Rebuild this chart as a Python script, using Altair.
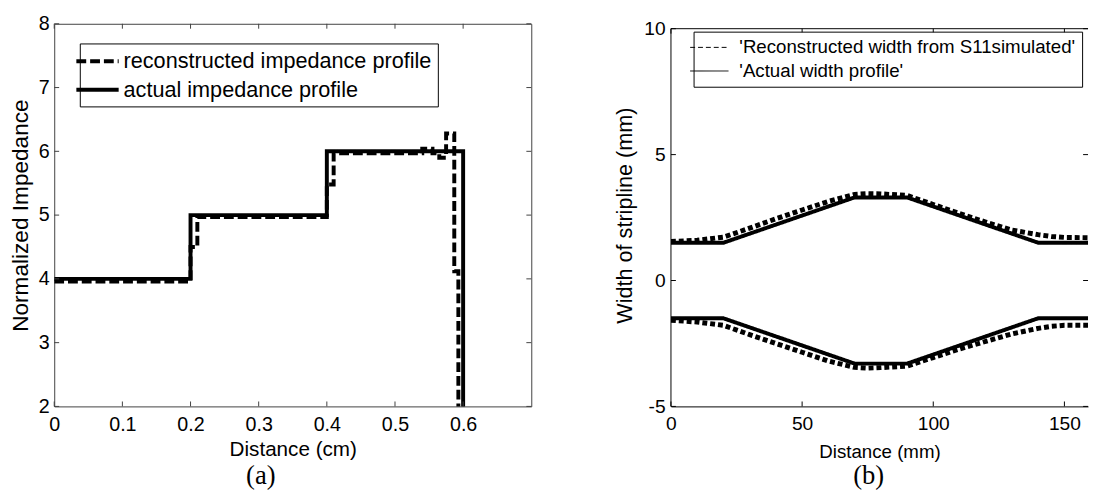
import altair as alt
import pandas as pd

# ---------------- panel (a) data ----------------
a_series = ["reconstructed impedance profile", "actual impedance profile"]
a_actual_x = [0.0, 0.2, 0.4, 0.6]
a_actual_y = [4.0, 5.0, 6.0, 1.0]
a_recon_x = [0.0, 0.2, 0.21, 0.4, 0.41, 0.54, 0.555, 0.565, 0.575, 0.587, 0.593]
a_recon_y = [3.96, 4.5, 4.97, 5.48, 5.97, 6.04, 5.97, 5.9, 6.28, 4.12, 1.0]
a_xticks = [0, 0.1, 0.2, 0.3, 0.4, 0.5, 0.6]
a_yticks = [2, 3, 4, 5, 6, 7, 8]
a_xdomain = [0, 0.7]
a_ydomain = [2, 8]
a_caption = ["(a)"]

# ---------------- panel (b) data ----------------
b_series = ["'Reconstructed width from S11simulated'\u00a0", "\u00a0'Actual width profile'"]
b_actual_x = [0, 20, 70, 90, 140, 160]
b_actual_upper = [1.5, 1.5, 3.3, 3.3, 1.5, 1.5]
b_actual_lower = [-1.5, -1.5, -3.3, -3.3, -1.5, -1.5]
b_recon_x = [0, 10, 20, 30, 40, 50, 60, 70, 75, 80, 90, 100, 110, 120, 130, 140, 145, 150, 160]
b_recon_upper = [1.55, 1.6, 1.72, 2.08, 2.45, 2.8, 3.14, 3.42, 3.45, 3.44, 3.38, 3.02,
                 2.66, 2.32, 2.0, 1.82, 1.75, 1.71, 1.7]
b_recon_lower = [-1.58, -1.65, -1.78, -2.15, -2.5, -2.85, -3.2, -3.45, -3.48, -3.46, -3.4,
                 -3.06, -2.72, -2.42, -2.12, -1.9, -1.82, -1.78, -1.78]
b_xticks = [0, 50, 100, 150]
b_yticks = [-5, 0, 5, 10]
b_xdomain = [0, 159]
b_frame = [-5, 10]          # drawn frame of panel (b)
b_ydomain = [-5, 10.195]    # a little head-room above the frame
b_caption = ["(b)"]

AW, AH = 485, 389
BW, BH = 424, 389
SANS = "Liberation Sans, Arial, sans-serif"
SERIF = "Liberation Serif, Times New Roman, serif"
TK = 5

# ================= panel (a) =================
a_df_actual = pd.DataFrame({"x": a_actual_x, "y": a_actual_y, "series": a_series[1]})
a_df_recon = pd.DataFrame({"x": a_recon_x, "y": a_recon_y, "series": a_series[0]})
a_xt = pd.DataFrame({"x": a_xticks})
a_yt = pd.DataFrame({"y": a_yticks})

a_xaxis = alt.Axis(values=a_xticks, labelExpr="'' + datum.value", labelFont=SANS, labelFontSize=20,
                   labelColor="black", labelPadding=8, labelFlush=False, labelOverlap=False,
                   ticks=False, domain=False, grid=False, title="Distance (cm)", titleFont=SANS,
                   titleFontSize=21, titleFontWeight="normal", titleColor="black", titlePadding=5)
a_yaxis = alt.Axis(values=a_yticks, labelExpr="'' + datum.value", labelFont=SANS, labelFontSize=20,
                   labelColor="black", labelPadding=5, labelOverlap=False, ticks=False, domain=False,
                   grid=False, title="Normalized Impedance", titleFont=SANS, titleFontSize=23,
                   titleFontWeight="normal", titleColor="black", titlePadding=6)
a_X = alt.X("x:Q", scale=alt.Scale(domain=a_xdomain, nice=False, zero=False), axis=a_xaxis,
            title="Distance (cm)")
a_Y = alt.Y("y:Q", scale=alt.Scale(domain=a_ydomain, nice=False, zero=False), axis=a_yaxis,
            title="Normalized Impedance")
a_dash = alt.Scale(domain=a_series, range=[[10, 4], [1, 0]])
a_legend = alt.Legend(title=None, orient="none", legendX=26, legendY=20, direction="vertical",
                      strokeColor="black", fillColor="white", padding=6,
                      symbolType="M-2.15,0H2.15", symbolSize=400, symbolStrokeWidth=4,
                      symbolStrokeColor="black", labelFont=SANS, labelFontSize=22,
                      labelColor="black", labelOffset=14.5, rowPadding=6, labelLimit=0)

a_solid = alt.Chart(a_df_actual).mark_line(
    interpolate="step-after", color="black", strokeWidth=4, clip=True
).encode(x=a_X, y=a_Y, strokeDash=alt.StrokeDash("series:N", scale=a_dash, legend=a_legend))
a_dashed = alt.Chart(a_df_recon).mark_line(
    interpolate="step-after", color="black", strokeWidth=4, clip=True
).encode(x=a_X, y=a_Y, strokeDash=alt.StrokeDash("series:N", scale=a_dash, legend=a_legend))

a_tx = alt.X("x:Q", title="Distance (cm)")
a_ty = alt.Y("y:Q", title="Normalized Impedance")
a_tick_b = alt.Chart(a_xt).mark_rule(color="#404040").encode(
    x=a_tx, y=alt.value(AH), y2=alt.value(AH - TK))
a_tick_t = alt.Chart(a_xt).mark_rule(color="#404040").encode(
    x=a_tx, y=alt.value(0), y2=alt.value(TK))
a_tick_l = alt.Chart(a_yt).mark_rule(color="#404040").encode(
    y=a_ty, x=alt.value(0), x2=alt.value(TK))
a_tick_r = alt.Chart(a_yt).mark_rule(color="#404040").encode(
    y=a_ty, x=alt.value(AW - TK), x2=alt.value(AW))
a_cap = alt.Chart(pd.DataFrame({"cap": a_caption})).mark_text(
    font=SERIF, fontSize=27, color="black", baseline="middle", align="center"
).encode(text="cap:N", x=alt.value(210), y=alt.value(460))

chart_a = alt.layer(a_solid, a_dashed, a_tick_b, a_tick_t, a_tick_l, a_tick_r, a_cap).properties(
    width=AW, height=AH, view=alt.ViewBackground(stroke="#404040", strokeWidth=1))

# ================= panel (b) =================
b_rows = []
for xv, yv in zip(b_actual_x, b_actual_upper):
    b_rows.append({"x": xv, "y": yv, "series": b_series[1], "part": "au"})
for xv, yv in zip(b_actual_x, b_actual_lower):
    b_rows.append({"x": xv, "y": yv, "series": b_series[1], "part": "al"})
b_df_actual = pd.DataFrame(b_rows)
b_rows = []
for xv, yv in zip(b_recon_x, b_recon_upper):
    b_rows.append({"x": xv, "y": yv, "series": b_series[0], "part": "ru"})
for xv, yv in zip(b_recon_x, b_recon_lower):
    b_rows.append({"x": xv, "y": yv, "series": b_series[0], "part": "rl"})
b_df_recon = pd.DataFrame(b_rows)
b_xt = pd.DataFrame({"x": b_xticks})
b_yt = pd.DataFrame({"y": b_yticks})

b_xaxis = alt.Axis(values=b_xticks, labelExpr="'' + datum.value", labelFont=SANS, labelFontSize=19.5,
                   labelColor="black", labelPadding=8, labelFlush=False, labelOverlap=False,
                   ticks=False, domain=True, domainColor="black", grid=False, title="Distance (mm)",
                   titleFont=SANS, titleFontSize=19, titleFontWeight="normal", titleColor="black",
                   titlePadding=10)
b_yaxis = alt.Axis(values=b_yticks, labelExpr="'' + datum.value", labelFont=SANS, labelFontSize=19.5,
                   labelColor="black", labelPadding=6, labelOverlap=False, ticks=False, domain=False,
                   grid=False, title="Width of stripline (mm)", titleFont=SANS,
                   titleFontSize=22, titleFontWeight="normal", titleColor="black", titlePadding=7)
b_X = alt.X("x:Q", scale=alt.Scale(domain=b_xdomain, nice=False, zero=False), axis=b_xaxis,
            title="Distance (mm)")
b_Y = alt.Y("y:Q", scale=alt.Scale(domain=b_ydomain, nice=False, zero=False), axis=b_yaxis,
            title="Width of stripline (mm)")
b_dash = alt.Scale(domain=b_series, range=[[5, 3], [1, 0]])
b_legend = alt.Legend(title=None, orient="none", legendX=23, legendY=8, direction="vertical",
                      strokeColor="black", fillColor="white", padding=6,
                      symbolType="M-2.05,0H2.05", symbolSize=361, symbolStrokeWidth=1,
                      symbolStrokeColor="black", labelFont=SANS, labelFontSize=19,
                      labelColor="black", labelOffset=20.5, rowPadding=4, labelLimit=0)

b_solid = alt.Chart(b_df_actual).mark_line(color="black", strokeWidth=4, clip=True).encode(
    x=b_X, y=b_Y, detail="part:N",
    strokeDash=alt.StrokeDash("series:N", scale=b_dash, legend=b_legend))
b_dashed = alt.Chart(b_df_recon).mark_line(color="black", strokeWidth=5, clip=True).encode(
    x=b_X, y=b_Y, detail="part:N",
    strokeDash=alt.StrokeDash("series:N", scale=b_dash, legend=b_legend))

b_tx = alt.X("x:Q", title="Distance (mm)")
b_ty = alt.Y("y:Q", title="Width of stripline (mm)")
b_top = alt.Chart(pd.DataFrame({"y": [b_frame[1]]})).mark_rule(color="black").encode(
    y=b_ty, x=alt.value(0), x2=alt.value(BW))
b_left = alt.Chart(pd.DataFrame({"y": [b_frame[0]], "y2": [b_frame[1]]})).mark_rule(
    color="black").encode(y=b_ty, y2="y2:Q", x=alt.value(0))
b_tick_b = alt.Chart(b_xt).mark_rule(color="black").encode(
    x=b_tx, y=alt.value(BH), y2=alt.value(BH - TK))
b_tick_t = alt.Chart(b_xt.assign(y=b_frame[1])).mark_rule(color="black", y2Offset=TK).encode(
    x=b_tx, y=b_ty, y2="y:Q")
b_tick_l = alt.Chart(b_yt).mark_rule(color="black").encode(
    y=b_ty, x=alt.value(0), x2=alt.value(TK))
b_tick_r = alt.Chart(b_yt).mark_rule(color="black").encode(
    y=b_ty, x=alt.value(BW - TK), x2=alt.value(BW))
b_cap = alt.Chart(pd.DataFrame({"cap": b_caption})).mark_text(
    font=SERIF, fontSize=27, color="black", baseline="middle", align="center"
).encode(text="cap:N", x=alt.value(201), y=alt.value(460))

chart_b = alt.layer(b_solid, b_dashed, b_top, b_left, b_tick_b, b_tick_t, b_tick_l, b_tick_r,
                    b_cap).properties(width=BW, height=BH)

chart = alt.hconcat(chart_a, chart_b, spacing=83).resolve_scale(
    strokeDash="independent"
).properties(
    padding={"left": 1, "top": 1, "right": 0, "bottom": 0}, background="white"
).configure_view(stroke=None)

chart.save("out.html", embed_options={"renderer": "svg", "actions": False})
